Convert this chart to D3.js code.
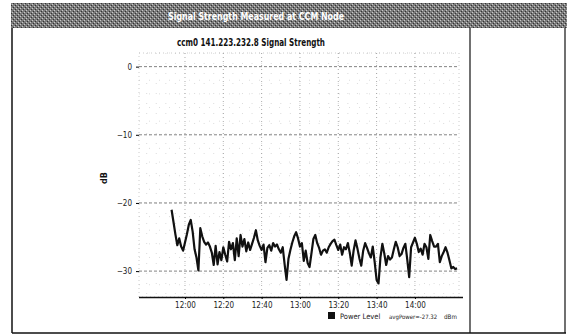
<!DOCTYPE html>
<html>
<head>
<meta charset="utf-8">
<script src="https://cdn.jsdelivr.net/npm/d3@7"></script>
<style>
  body { margin: 0; background: #fff; }
  text { font-family: "DejaVu Sans Condensed", "DejaVu Sans", sans-serif; }
</style>
</head>
<body>
<svg id="chart" width="570" height="335"></svg>
<script>
const title = "Signal Strength Measured at CCM Node";
const subtitle = "ccm0 141.223.232.8 Signal Strength";
const seriesName = "Power Level";
const avgLabel = "avgPower=-27.32";
const unitLabel = "dBm";
const yTicks = [0, -10, -20, -30];
const xTickLabels = ["12:00", "12:20", "12:40", "13:00", "13:20", "13:40", "14:00"];

const times = [
  "11:53", "11:54", "11:55", "11:56", "11:57", "11:58", "11:59",
  "12:00", "12:01", "12:02", "12:03", "12:04", "12:05", "12:06", "12:07", "12:08", "12:09",
  "12:10", "12:11", "12:12", "12:13", "12:14", "12:15", "12:16", "12:17", "12:18", "12:19",
  "12:20", "12:21", "12:22", "12:23", "12:24", "12:25", "12:26", "12:27", "12:28", "12:29",
  "12:30", "12:31", "12:32", "12:33", "12:34", "12:35", "12:36", "12:37", "12:38", "12:39",
  "12:40", "12:41", "12:42", "12:43", "12:44", "12:45", "12:46", "12:47", "12:48", "12:49",
  "12:50", "12:51", "12:52", "12:53", "12:54", "12:55", "12:56", "12:57", "12:58", "12:59",
  "13:00", "13:01", "13:02", "13:03", "13:04", "13:05", "13:06", "13:07", "13:08", "13:09",
  "13:10", "13:11", "13:12", "13:13", "13:14", "13:15", "13:16", "13:17", "13:18", "13:19",
  "13:20", "13:21", "13:22", "13:23", "13:24", "13:25", "13:26", "13:27", "13:28", "13:29",
  "13:30", "13:31", "13:32", "13:33", "13:34", "13:35", "13:36", "13:37", "13:38", "13:39",
  "13:40", "13:41", "13:42", "13:43", "13:44", "13:45", "13:46", "13:47", "13:48", "13:49",
  "13:50", "13:51", "13:52", "13:53", "13:54", "13:55", "13:56", "13:57", "13:58", "13:59",
  "14:00", "14:01", "14:02", "14:03", "14:04", "14:05", "14:06", "14:07", "14:08", "14:09",
  "14:10", "14:11", "14:12", "14:13", "14:14", "14:15", "14:16", "14:17", "14:18", "14:19",
  "14:20", "14:21", "14:22"
];

const power = [
  -21.0, -22.8, -24.6, -26.2, -25.2, -26.4, -27.0,
  -25.8, -24.6, -23.2, -22.5, -24.2, -26.8, -28.0, -29.9, -23.7, -24.9,
  -25.7, -26.1, -25.8, -26.4, -27.3, -29.1, -26.3, -29.0, -27.2, -28.4,
  -26.5, -27.6, -28.6, -25.7, -26.8, -25.9, -28.4, -25.2, -27.8, -24.7,
  -26.4, -25.3, -27.1, -25.8, -26.9, -26.0, -25.1, -24.0, -25.5, -26.3,
  -26.9, -26.1, -28.7, -26.6, -26.2, -27.0, -25.9, -26.4, -26.1, -26.8,
  -27.3, -26.5, -29.0, -31.3, -28.2, -26.9, -25.8, -24.9, -24.3, -25.2,
  -26.4, -25.9, -28.5, -27.0, -28.8, -29.4, -27.4, -25.3, -24.7, -25.9,
  -26.6, -27.6, -27.0, -26.8, -27.3, -26.5, -26.0, -25.6, -25.4, -26.2,
  -26.9, -26.1, -27.6, -26.5, -26.8, -25.9, -27.3, -29.2, -27.0, -25.5,
  -26.7, -28.1, -29.2, -27.0, -25.9, -26.6, -27.4, -28.0, -26.4, -28.7,
  -31.3, -31.8, -28.0, -26.0, -27.4, -29.1, -27.8, -28.3, -28.0, -26.8,
  -25.7, -26.5, -27.8, -27.5, -26.6, -26.0, -28.3, -30.9, -26.5, -25.8,
  -25.1, -26.0, -27.2, -26.7, -27.6, -26.0, -26.5, -28.2, -24.7, -25.6,
  -26.4, -26.4, -26.0, -28.7, -27.8, -27.2, -26.5, -27.3, -28.4, -29.6,
  -29.4, -29.7, -29.6
];

const parse = d3.timeParse("%H:%M");
const data = times.map((t, i) => ({ t: parse(t), v: power[i] }));

const svg = d3.select("#chart");

// shrink a text's font until it fits a width
function fitText(sel, maxW, size) {
  let s = size;
  sel.attr("font-size", s);
  while (sel.node().getComputedTextLength() > maxW && s > 4) {
    s -= 0.25;
    sel.attr("font-size", s);
  }
  return sel;
}

// dithered title bar
const defs = svg.append("defs");
const pat = defs.append("pattern")
  .attr("id", "dither").attr("width", 4).attr("height", 4)
  .attr("patternUnits", "userSpaceOnUse");
pat.append("rect").attr("width", 4).attr("height", 4).attr("fill", "#7a7a7a");
pat.append("rect").attr("x", 0).attr("y", 0).attr("width", 1).attr("height", 1).attr("fill", "#c8c8c8");
pat.append("rect").attr("x", 2).attr("y", 2).attr("width", 1).attr("height", 1).attr("fill", "#c8c8c8");
pat.append("rect").attr("x", 1).attr("y", 3).attr("width", 1).attr("height", 1).attr("fill", "#333");
pat.append("rect").attr("x", 3).attr("y", 1).attr("width", 1).attr("height", 1).attr("fill", "#333");

svg.append("rect")
  .attr("x", 11).attr("y", 3).attr("width", 556).attr("height", 25)
  .attr("fill", "url(#dither)");

svg.append("text")
  .attr("x", 256).attr("y", 20)
  .attr("text-anchor", "middle")
  .attr("fill", "#fff")
  .attr("font-weight", "bold")
  .attr("font-size", 11)
  .attr("textLength", 176)
  .attr("lengthAdjust", "spacingAndGlyphs")
  .text(title);

// panel frame
const frame = svg.append("g").attr("stroke", "#111").attr("fill", "none");
frame.append("line").attr("x1", 12).attr("x2", 12).attr("y1", 28).attr("y2", 333).attr("stroke-width", 1.5);
frame.append("line").attr("x1", 470).attr("x2", 470).attr("y1", 28).attr("y2", 333).attr("stroke-width", 1.2);
frame.append("line").attr("x1", 565).attr("x2", 565).attr("y1", 28).attr("y2", 333).attr("stroke-width", 1.2);
frame.append("line").attr("x1", 12).attr("x2", 566).attr("y1", 333).attr("y2", 333).attr("stroke-width", 1.5);

svg.append("text")
  .attr("x", 251).attr("y", 46)
  .attr("text-anchor", "middle")
  .attr("font-weight", "bold")
  .attr("font-size", 10)
  .attr("fill", "#111")
  .attr("textLength", 148)
  .attr("lengthAdjust", "spacingAndGlyphs")
  .text(subtitle);

// plot
const plotLeft = 139, plotRight = 459, plotTop = 53, plotBottom = 297;

const x = d3.scaleTime()
  .domain([parse("11:36"), parse("14:23")])
  .range([plotLeft, plotRight]);

const y = d3.scaleLinear()
  .domain([-33.8, 2])
  .range([plotBottom, plotTop]);

const grid = svg.append("g");

// minor grid
grid.selectAll("line.ymin")
  .data(d3.range(-32, 2.1, 2))
  .join("line")
  .attr("x1", plotLeft).attr("x2", plotRight)
  .attr("y1", d => y(d)).attr("y2", d => y(d))
  .attr("stroke", "#c4c4c4").attr("stroke-width", 0.6)
  .attr("stroke-dasharray", "1,9");

grid.selectAll("line.xmin")
  .data(x.ticks(d3.timeMinute.every(5)))
  .join("line")
  .attr("x1", d => x(d)).attr("x2", d => x(d))
  .attr("y1", plotTop).attr("y2", plotBottom)
  .attr("stroke", "#c4c4c4").attr("stroke-width", 0.6)
  .attr("stroke-dasharray", "1,9");

// major grid
grid.selectAll("line.ymaj")
  .data(yTicks)
  .join("line")
  .attr("x1", plotLeft).attr("x2", plotRight)
  .attr("y1", d => y(d)).attr("y2", d => y(d))
  .attr("stroke", "#666").attr("stroke-width", 0.8)
  .attr("stroke-dasharray", "3,2");

grid.selectAll("line.xmaj")
  .data(xTickLabels.map(parse))
  .join("line")
  .attr("x1", d => x(d)).attr("x2", d => x(d))
  .attr("y1", plotTop).attr("y2", plotBottom)
  .attr("stroke", "#888").attr("stroke-width", 0.7)
  .attr("stroke-dasharray", "1,3");

// plot border
svg.append("rect")
  .attr("x", plotLeft).attr("y", plotTop)
  .attr("width", plotRight - plotLeft).attr("height", plotBottom - plotTop)
  .attr("fill", "none").attr("stroke", "#aaa").attr("stroke-width", 0.6)
  .attr("stroke-dasharray", "1,3");

// x axis
const xAxis = svg.append("g")
  .attr("transform", `translate(0,${plotBottom})`)
  .call(d3.axisBottom(x)
    .tickValues(xTickLabels.map(parse))
    .tickFormat(d3.timeFormat("%H:%M"))
    .tickSize(2));
xAxis.select(".domain").attr("stroke", "#111").attr("stroke-width", 1.5)
  .attr("d", `M${plotLeft},0.5H${plotRight + 4}`);
xAxis.selectAll("text").attr("font-size", 8).attr("fill", "#222");

// y axis
const yAxis = svg.append("g")
  .attr("transform", `translate(${plotLeft},0)`)
  .call(d3.axisLeft(y).tickValues(yTicks).tickSize(3).tickPadding(4));
yAxis.select(".domain").remove();
yAxis.selectAll("text").attr("font-size", 8).attr("fill", "#222");

svg.append("text")
  .attr("transform", "translate(107,178) rotate(-90)")
  .attr("text-anchor", "middle")
  .attr("font-size", 9)
  .attr("font-weight", "bold")
  .attr("fill", "#111")
  .text("dB");

// series line
svg.append("path")
  .datum(data)
  .attr("fill", "none")
  .attr("stroke", "#111")
  .attr("stroke-width", 2.2)
  .attr("stroke-linejoin", "round")
  .attr("d", d3.line().x(d => x(d.t)).y(d => y(d.v)));

// legend
const legend = svg.append("g").attr("transform", "translate(328,318)");
legend.append("rect").attr("x", 0).attr("y", -6).attr("width", 7).attr("height", 7).attr("fill", "#111");
fitText(legend.append("text").attr("x", 12).attr("y", 1).attr("fill", "#222")
  .attr("font-family", "'DejaVu Sans Mono', monospace").text(seriesName), 45, 7.5);
fitText(legend.append("text").attr("x", 61).attr("y", 1).attr("fill", "#222")
  .text(avgLabel), 50, 7.5);
fitText(legend.append("text").attr("x", 116).attr("y", 1).attr("fill", "#222")
  .text(unitLabel), 13, 7.5);
</script>
</body>
</html>
